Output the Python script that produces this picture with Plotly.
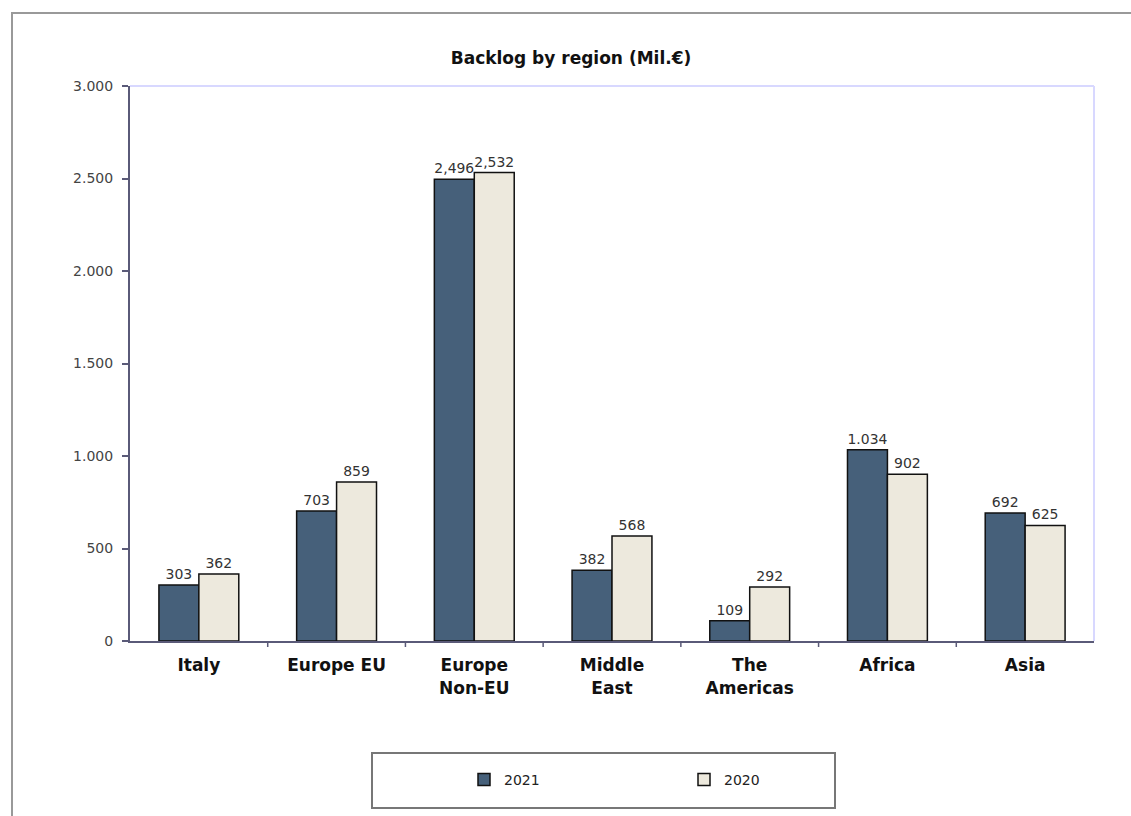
import plotly.graph_objects as go

categories = ["Italy", "Europe EU", "Europe<br>Non-EU", "Middle<br>East", "The<br>Americas", "Africa", "Asia"]
values_2021 = [303, 703, 2496, 382, 109, 1034, 692]
values_2020 = [362, 859, 2532, 568, 292, 902, 625]
labels_2021 = ["303", "703", "2,496", "382", "109", "1.034", "692"]
labels_2020 = ["362", "859", "2,532", "568", "292", "902", "625"]
ytick_vals = [0, 500, 1000, 1500, 2000, 2500, 3000]
ytick_text = ["0", "500", "1.000", "1.500", "2.000", "2.500", "3.000"]

W, H = 1131, 816
L, R, T, B = 130, 37, 86, 175
pw, ph = W - L - R, H - T - B

def px(x):
    return (x - L) / pw

def py(y):
    return (H - B - y) / ph

label_font = dict(family="DejaVu Sans", size=14, color="#333333")

fig = go.Figure()
fig.add_trace(go.Bar(
    name="2021", x=categories, y=values_2021, text=labels_2021,
    textposition="outside", textfont=label_font, cliponaxis=False,
    marker=dict(color="#46607a", line=dict(color="#111111", width=1.5)),
))
fig.add_trace(go.Bar(
    name="2020", x=categories, y=values_2020, text=labels_2020,
    textposition="outside", textfont=label_font, cliponaxis=False,
    marker=dict(color="#ede9dd", line=dict(color="#111111", width=1.5)),
))

fig.update_layout(
    width=W, height=H,
    margin=dict(l=L, r=R, t=T, b=B),
    paper_bgcolor="white", plot_bgcolor="white",
    barmode="group", bargap=0.42, bargroupgap=0,
    title=dict(text="<b>Backlog by region (Mil.€)</b>", xref="container", x=571 / W,
               xanchor="center", yref="container", y=1 - 58 / H, yanchor="middle",
               font=dict(family="DejaVu Sans", size=17, color="#111111")),
    showlegend=True,
    legend=dict(orientation="h", x=px(464), xanchor="left", y=py(780), yanchor="middle",
                font=dict(family="DejaVu Sans", size=14, color="#222222"),
                bgcolor="rgba(0,0,0,0)", borderwidth=0, entrywidth=175,
                traceorder="normal"),
    xaxis=dict(showline=True, linecolor="#5a5a78", linewidth=2,
               ticks="", showgrid=False, ticklabelstandoff=8,
               tickfont=dict(family="DejaVu Sans", size=17, color="#111111"),
               tickprefix="<b>", ticksuffix="</b>"),
    yaxis=dict(range=[0, 3000], tickvals=ytick_vals, ticktext=ytick_text,
               showline=True, linecolor="#5a5a78", linewidth=2,
               ticks="outside", ticklen=6, tickcolor="#5a5a78", tickwidth=1.5,
               showgrid=False, zeroline=False, ticklabelstandoff=6,
               tickfont=dict(family="DejaVu Sans", size=14, color="#444444")),
    shapes=[
        # outer frame
        dict(type="rect", xref="paper", yref="paper", x0=px(12), x1=px(1140),
             y0=py(830), y1=py(13), line=dict(color="#999999", width=2), layer="below"),
        # plot area frame (top/right light)
        dict(type="line", xref="paper", yref="paper", x0=0, x1=1, y0=1, y1=1,
             line=dict(color="#d8d8ff", width=2)),
        dict(type="line", xref="paper", yref="paper", x0=1, x1=1, y0=0, y1=1,
             line=dict(color="#d8d8ff", width=2)),
        # legend box
        dict(type="rect", xref="paper", yref="paper", x0=px(372), x1=px(835),
             y0=py(808), y1=py(753), line=dict(color="#777777", width=2)),
    ] + [
        dict(type="line", xref="paper", yref="paper", x0=k / 7, x1=k / 7,
             y0=0, y1=-6 / ph, line=dict(color="#5a5a78", width=1.5))
        for k in range(1, 7)
    ],
)

fig.write_html("out.html")
